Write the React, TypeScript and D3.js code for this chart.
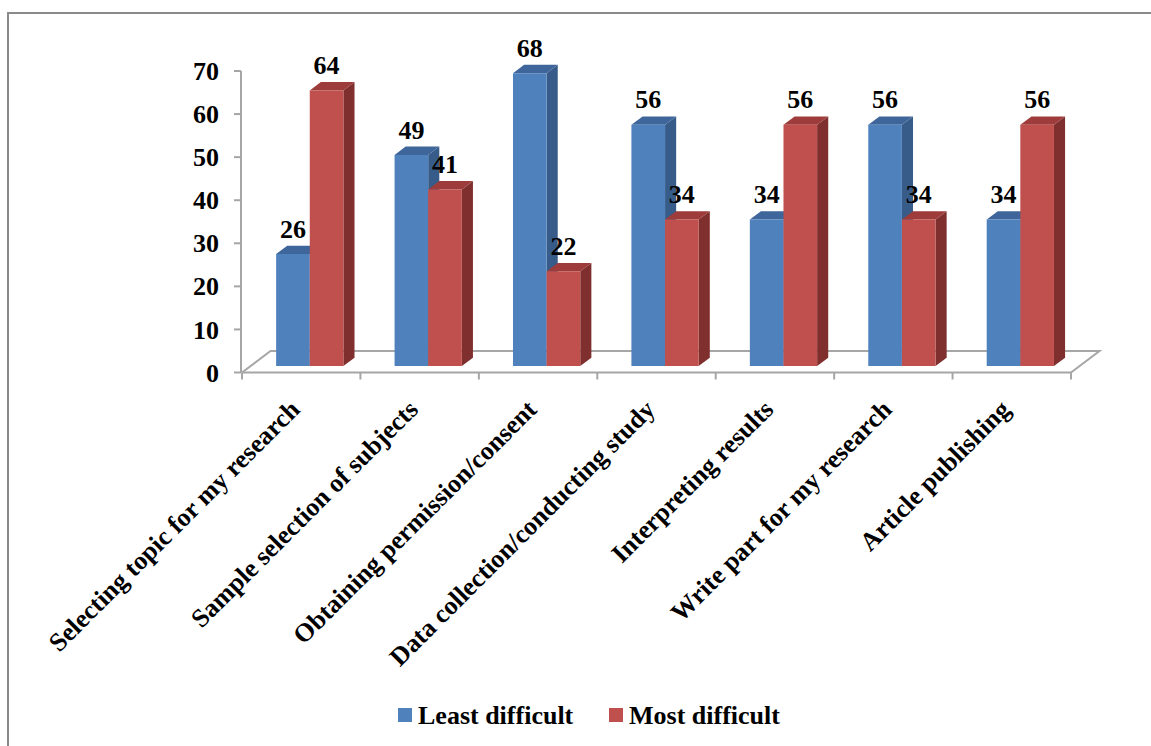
import * as d3 from "d3";

const W = 1151;
const H = 746;

const categories = [
  "Selecting topic for my research",
  "Sample selection of subjects",
  "Obtaining permission/consent",
  "Data collection/conducting study",
  "Interpreting results",
  "Write part for my research",
  "Article publishing",
];
const seriesNames = ["Least difficult", "Most difficult"];
const leastDifficult = [26, 49, 68, 56, 34, 56, 34];
const mostDifficult = [64, 41, 22, 34, 56, 34, 56];
const yTicks = [0, 10, 20, 30, 40, 50, 60, 70];

const FONT = "'Liberation Serif', 'Times New Roman', serif";
const FS = 26;

// face colours: front, top, side
const palette = [
  { front: "#4F81BD", top: "#3E669A", side: "#375C8A" },
  { front: "#C0504D", top: "#9D3C3A", side: "#7F302E" },
];

// oblique projection of the floor depth
const DEPTH = { dx: 28.5, dy: -21.5 };
const Z0 = 0.3;
const Z1 = 0.69;

export default function App() {
  const x = d3.scaleBand<string>().domain(categories).range([242, 1071]).paddingInner(0).paddingOuter(0);
  const y = d3.scaleLinear().domain([0, 70]).range([372.5, 71]);
  const bw = x.bandwidth();
  const inner = d3.scaleBand<string>().domain(seriesNames).range([0.216 * bw, 0.784 * bw]);

  const P = (px: number, v: number, z: number): [number, number] => [px + z * DEPTH.dx, y(v) + z * DEPTH.dy];
  const poly = (pts: [number, number][]) => pts.map((p) => p.join(",")).join(" ");

  const values = [leastDifficult, mostDifficult];

  const y0 = y(0);
  const floorFrontR = x.range()[1];

  return (
    <svg
      width={W}
      height={H}
      style={{ position: "absolute", left: 0, top: 0, background: "#fff" }}
      fontFamily={FONT}
      fontWeight="bold"
    >
      {/* frame */}
      <line x1={8} x2={8} y1={12} y2={H} stroke="#8a8a8a" strokeWidth={2} />
      <line x1={7} x2={W} y1={13} y2={13} stroke="#8a8a8a" strokeWidth={2} />

      {/* floor */}
      <g stroke="#a6a6a6" strokeWidth={2} fill="none">
        <polyline
          points={poly([
            P(242, 0, 0),
            P(242, 0, 1),
            P(floorFrontR, 0, 1),
            P(floorFrontR, 0, 0),
          ])}
        />
        <line x1={242} x2={floorFrontR} y1={y0} y2={y0} />
      </g>

      {/* y axis */}
      <g stroke="#a6a6a6" strokeWidth={2}>
        <line x1={241} x2={241} y1={y(70)} y2={y0} />
        {yTicks.map((t) => (
          <line key={t} x1={234} x2={241} y1={y(t)} y2={y(t)} />
        ))}
        {d3.range(categories.length + 1).map((i) => {
          const px = 242 + i * bw;
          return <line key={i} x1={px} x2={px} y1={y0} y2={y0 + 7} />;
        })}
      </g>
      {yTicks.map((t) => (
        <text key={t} x={219} y={y(t)} dy="0.35em" textAnchor="end" fontSize={FS}>
          {t}
        </text>
      ))}

      {/* bars */}
      {categories.map((c, ci) => (
        <g key={c}>
          {seriesNames.map((s, si) => {
            const v = values[si][ci];
            const xl = (x(c) ?? 0) + (inner(s) ?? 0);
            const xr = xl + inner.bandwidth();
            const col = palette[si];
            const fTL = P(xl, v, Z0);
            const fTR = P(xr, v, Z0);
            const fBR = P(xr, 0, Z0);
            const fBL = P(xl, 0, Z0);
            const bTL = P(xl, v, Z1);
            const bTR = P(xr, v, Z1);
            const bBR = P(xr, 0, Z1);
            return (
              <g key={s}>
                <polygon points={poly([fTR, bTR, bBR, fBR])} fill={col.side} />
                <polygon points={poly([fTL, bTL, bTR, fTR])} fill={col.top} />
                <polygon points={poly([fTL, fTR, fBR, fBL])} fill={col.front} />
              </g>
            );
          })}
        </g>
      ))}

      {/* data labels */}
      {categories.map((c, ci) =>
        seriesNames.map((s, si) => {
          const v = values[si][ci];
          const xl = (x(c) ?? 0) + (inner(s) ?? 0);
          const [fx, fy] = P(xl + inner.bandwidth() / 2, v, Z0);
          return (
            <text key={c + s} x={fx} y={fy - 16.5} textAnchor="middle" fontSize={FS}>
              {v}
            </text>
          );
        })
      )}

      {/* category labels */}
      {categories.map((c) => {
        const cx = (x(c) ?? 0) + bw / 2;
        const cy = 411;
        return (
          <text key={c} x={cx} y={cy} textAnchor="end" fontSize={FS} transform={`rotate(-45 ${cx} ${cy})`}>
            {c}
          </text>
        );
      })}

      {/* legend */}
      {seriesNames.map((s, i) => {
        const lx = i === 0 ? 398 : 609;
        return (
          <g key={s}>
            <rect x={lx} y={708} width={14} height={14} fill={palette[i].front} />
            <text x={lx + 20} y={724} fontSize={FS}>
              {s}
            </text>
          </g>
        );
      })}
    </svg>
  );
}
